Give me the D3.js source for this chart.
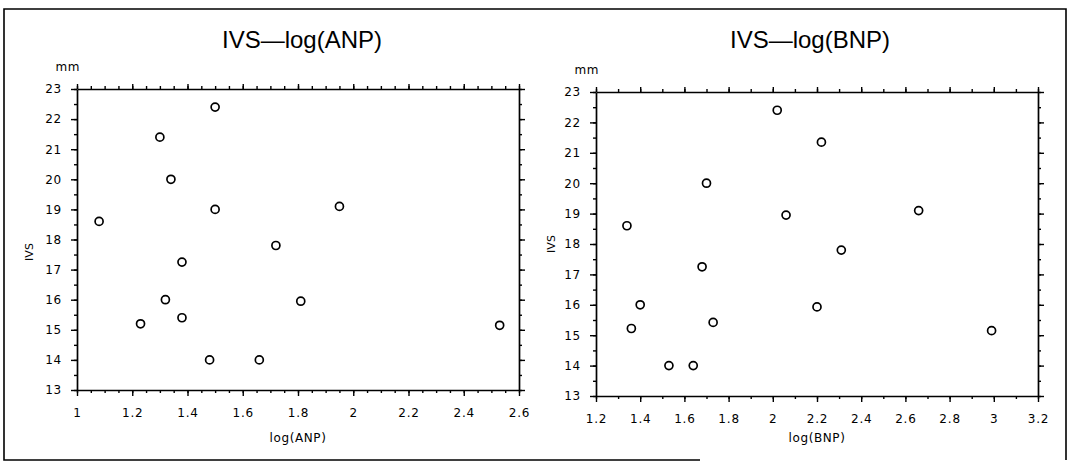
<!DOCTYPE html>
<html>
<head>
<meta charset="utf-8">
<script src="https://cdn.jsdelivr.net/npm/d3@7"></script>
<style>
  body { margin: 0; background: #fff; }
  svg { display: block; }
</style>
</head>
<body>
<div class="chart-container"></div>
<script>
// IVS (mm) against log(ANP) and log(BNP), one point per patient
const anpLog = [1.08, 1.30, 1.34, 1.50, 1.50, 1.95, 1.72, 1.38, 1.32, 1.81, 1.23, 1.38, 1.48, 1.66, 2.53];
const ivsAnp = [18.6, 21.4, 20.0, 22.4, 19.0, 19.1, 17.8, 17.25, 16.0, 15.95, 15.2, 15.4, 14.0, 14.0, 15.15];

const bnpLog = [1.34, 1.70, 2.02, 2.22, 2.06, 2.66, 1.68, 2.31, 1.40, 2.20, 1.36, 1.73, 1.53, 1.64, 2.99];
const ivsBnp = [18.6, 20.0, 22.4, 21.35, 18.95, 19.1, 17.25, 17.8, 16.0, 15.93, 15.22, 15.42, 14.0, 14.0, 15.15];

// tick labels
const yTicks = [13, 14, 15, 16, 17, 18, 19, 20, 21, 22, 23];
const anpTicks = [1, 1.2, 1.4, 1.6, 1.8, 2, 2.2, 2.4, 2.6];
const bnpTicks = [1.2, 1.4, 1.6, 1.8, 2, 2.2, 2.4, 2.6, 2.8, 3, 3.2];

const width = 1070;
const height = 464;
const ink = "#000";

const svg = d3
  .select(".chart-container")
  .append("svg")
  .attr("width", width)
  .attr("height", height);

// outer frame of the figure (bottom edge fades out in the scan)
svg
  .append("path")
  .attr("d", "M700,460 L4,460 L4,9 L1066,9 L1066,460")
  .style("fill", "none")
  .style("stroke", ink)
  .style("stroke-width", "1.6px");

function styleAxis(g) {
  g.attr("font-family", "DejaVu Sans, sans-serif")
    .attr("font-size", 12)
    .style("letter-spacing", "0.8px");
  g.selectAll("text").attr("fill", ink);
  g.selectAll("line").attr("stroke", ink).attr("stroke-width", 1.4);
  g.selectAll(".domain").attr("stroke", ink).attr("stroke-width", 1.7);
}

function drawPanel(p) {
  const x = d3.scaleLinear().domain(p.xDomain).range([p.left, p.right]);
  const y = d3.scaleLinear().domain([13, 23]).range([p.bottom, p.top]);
  const minorX = d3.range(p.xDomain[0], p.xDomain[1] + 1e-9, p.xMinor);
  const minorY = d3.range(13, 23.01, 0.5);
  const g = svg.append("g");

  // minor ticks on all four sides
  [
    [d3.axisBottom(x).tickValues(minorX), "translate(0," + p.bottom + ")"],
    [d3.axisTop(x).tickValues(minorX), "translate(0," + p.top + ")"],
    [d3.axisLeft(y).tickValues(minorY), "translate(" + p.left + ",0)"],
    [d3.axisRight(y).tickValues(minorY), "translate(" + p.right + ",0)"]
  ].forEach(function(a) {
    g.append("g")
      .attr("transform", a[1])
      .call(a[0].tickSize(3).tickFormat(""))
      .call(styleAxis)
      .select(".domain")
      .remove();
  });

  // major ticks, labelled on bottom and left
  g.append("g")
    .attr("transform", "translate(0," + p.bottom + ")")
    .call(d3.axisBottom(x).tickValues(p.xTicks).tickFormat(d3.format("")).tickSize(6).tickSizeOuter(0).tickPadding(12))
    .call(styleAxis);
  g.append("g")
    .attr("transform", "translate(0," + p.top + ")")
    .call(d3.axisTop(x).tickValues(p.xTicks).tickFormat("").tickSize(5).tickSizeOuter(0))
    .call(styleAxis);
  g.append("g")
    .attr("transform", "translate(" + p.left + ",0)")
    .call(d3.axisLeft(y).tickValues(yTicks).tickFormat(d3.format("")).tickSize(6).tickSizeOuter(0).tickPadding(9))
    .call(styleAxis);
  g.append("g")
    .attr("transform", "translate(" + p.right + ",0)")
    .call(d3.axisRight(y).tickValues(yTicks).tickFormat("").tickSize(6).tickSizeOuter(0))
    .call(styleAxis);

  // title
  g.append("text")
    .attr("x", p.titleX)
    .attr("y", 48)
    .attr("text-anchor", "middle")
    .attr("font-family", "Liberation Sans, Arial, sans-serif")
    .attr("font-size", 24)
    .attr("fill", ink)
    .text(p.title);

  // unit over the y axis
  g.append("text")
    .attr("x", p.left + 3)
    .attr("y", p.top - 18)
    .attr("text-anchor", "end")
    .attr("font-family", "DejaVu Sans, sans-serif")
    .attr("font-size", 12)
    .style("letter-spacing", "0.5px")
    .attr("fill", ink)
    .text("mm");

  // axis titles
  g.append("text")
    .attr("x", (p.left + p.right) / 2)
    .attr("y", 442)
    .attr("text-anchor", "middle")
    .attr("font-family", "DejaVu Sans, sans-serif")
    .attr("font-size", 12)
    .style("letter-spacing", "0.6px")
    .attr("fill", ink)
    .text(p.xLabel);
  g.append("text")
    .attr("transform", "translate(" + p.yLabelX + "," + p.yLabelY + ") rotate(-90)")
    .attr("text-anchor", "middle")
    .attr("font-family", "DejaVu Sans, sans-serif")
    .attr("font-size", 11)
    .attr("fill", ink)
    .text("IVS");

  // points
  g.selectAll("circle")
    .data(p.xs.map(function(v, i) { return [v, p.ys[i]]; }))
    .enter()
    .append("circle")
    .attr("cx", function(d) { return x(d[0]); })
    .attr("cy", function(d) { return y(d[1]); })
    .attr("r", 4)
    .style("fill", "#fff")
    .style("stroke", ink)
    .style("stroke-width", "1.7px");
}

drawPanel({
  title: "IVS\u2014log(ANP)",
  xLabel: "log(ANP)",
  xs: anpLog,
  ys: ivsAnp,
  xDomain: [1, 2.6],
  xTicks: anpTicks,
  xMinor: 0.05,
  left: 77, right: 519, top: 89, bottom: 390,
  titleX: 302,
  yLabelX: 33, yLabelY: 252
});

drawPanel({
  title: "IVS\u2014log(BNP)",
  xLabel: "log(BNP)",
  xs: bnpLog,
  ys: ivsBnp,
  xDomain: [1.2, 3.2],
  xTicks: bnpTicks,
  xMinor: 0.1,
  left: 596, right: 1038, top: 92, bottom: 396,
  titleX: 810,
  yLabelX: 555, yLabelY: 244
});
</script>
</body>
</html>
